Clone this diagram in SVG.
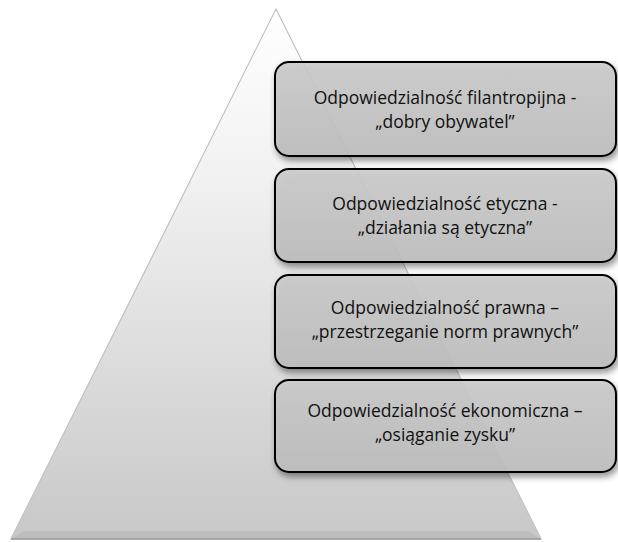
<svg xmlns="http://www.w3.org/2000/svg" width="618" height="542" viewBox="0 0 618 542">
<defs>
<linearGradient id="tri" x1="0" y1="0" x2="0" y2="1">
<stop offset="0" stop-color="#ffffff"/>
<stop offset="0.3" stop-color="#f2f2f2"/>
<stop offset="1" stop-color="#c8c8c8"/>
</linearGradient>
<linearGradient id="box" x1="0" y1="0" x2="0" y2="1">
<stop offset="0" stop-color="#cccccc"/>
<stop offset="1" stop-color="#bfbfbf"/>
</linearGradient>
<filter id="sh" x="-10%" y="-10%" width="130%" height="140%">
<feDropShadow dx="2" dy="4" stdDeviation="3" flood-color="#000" flood-opacity="0.45"/>
</filter>
</defs>
<style>
.box{fill:url(#box);fill-opacity:0.88;stroke:#000;stroke-width:2;filter:url(#sh)}
.t{font-family:"Open Sans","Liberation Sans",Arial,sans-serif;font-size:17.5px;fill:#111;text-anchor:middle}
</style>
<g id="pyramid">
<polygon points="276,9 541,539 11,539" fill="url(#tri)" stroke="#c0c0c0" stroke-width="1.2"/>
<polygon points="24,531 528,531 541,539 11,539" fill="#b5b5b5" opacity="0.6"/>
<line x1="11" y1="539" x2="541" y2="539" stroke="#9a9a9a" stroke-width="1.5"/>
</g>
<g id="node1">
<rect class="box" x="275" y="62" width="341" height="94" rx="14"/>
<text class="t" x="445" y="104">Odpowiedzialność filantropijna -</text>
<text class="t" x="445" y="128">„dobry obywatel”</text>
</g>
<g id="node2">
<rect class="box" x="275" y="169" width="341" height="93" rx="14"/>
<text class="t" x="445" y="210">Odpowiedzialność etyczna -</text>
<text class="t" x="445" y="234">„działania są etyczna”</text>
</g>
<g id="node3">
<rect class="box" x="275" y="275" width="341" height="93" rx="14"/>
<text class="t" x="445" y="314">Odpowiedzialność prawna –</text>
<text class="t" x="445" y="338">„przestrzeganie norm prawnych”</text>
</g>
<g id="node4">
<rect class="box" x="275" y="380" width="341" height="92" rx="14"/>
<text class="t" x="445" y="417">Odpowiedzialność ekonomiczna –</text>
<text class="t" x="445" y="441">„osiąganie zysku”</text>
</g>
<g id="connectors"/>
</svg>
